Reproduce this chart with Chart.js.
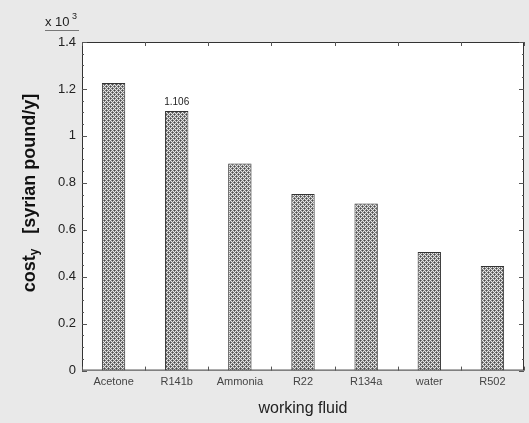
<!DOCTYPE html>
<html>
<head>
<meta charset="utf-8">
<script src="https://cdn.jsdelivr.net/npm/chart.js@4.4.1/dist/chart.umd.min.js"></script>
<style>
  html, body { margin: 0; padding: 0; background: #e9e9e9; }
  #wrap { width: 529px; height: 423px; }
</style>
</head>
<body>
<div id="wrap"><canvas id="c" width="529" height="423"></canvas></div>
<script>
// working fluids and their yearly cost (x 10^3 syrian pound/y)
const fluids = ['Acetone', 'R141b', 'Ammonia', 'R22', 'R134a', 'water', 'R502'];
const costs = [1.225, 1.106, 0.882, 0.752, 0.712, 0.505, 0.446];
// only this bar carries a value label
const labelled = [1];
const yTicks = [0, 0.2, 0.4, 0.6, 0.8, 1, 1.2, 1.4];

// small crosshatch tile for the bars
function makeHatch(ctx) {
    const t = document.createElement('canvas');
    t.width = 4; t.height = 4;
    const g = t.getContext('2d');
    g.fillStyle = '#e6e6e6';
    g.fillRect(0, 0, 4, 4);
    g.fillStyle = '#4a4a4a';
    g.fillRect(0, 0, 1, 1);
    g.fillRect(2, 2, 1, 1);
    g.fillStyle = '#808080';
    g.fillRect(1, 0, 1, 1); g.fillRect(0, 1, 1, 1);
    g.fillRect(3, 2, 1, 1); g.fillRect(2, 3, 1, 1);
    g.fillRect(1, 2, 1, 1); g.fillRect(2, 1, 1, 1);
    g.fillRect(3, 0, 1, 1); g.fillRect(0, 3, 1, 1);
    return ctx.createPattern(t, 'repeat');
}

const ctx = document.getElementById('c').getContext('2d');

const decor = {
    id: 'decor',
    beforeDraw(chart) {
        const { ctx, chartArea: a } = chart;
        ctx.save();
        ctx.fillStyle = '#e9e9e9';
        ctx.fillRect(0, 0, chart.width, chart.height);
        ctx.fillStyle = '#ffffff';
        ctx.fillRect(a.left, a.top, a.right - a.left, a.bottom - a.top);
        ctx.restore();
    },
    afterDraw(chart) {
        const { ctx, chartArea: a, scales } = chart;
        const y = scales.y, x = scales.x;
        ctx.save();
        // frame
        ctx.strokeStyle = '#333';
        ctx.lineWidth = 1;
        ctx.strokeRect(a.left + 0.5, a.top + 0.5, a.right - a.left - 1, a.bottom - a.top - 1);
        // inward tick marks, major + minor
        ctx.strokeStyle = '#555';
        ctx.beginPath();
        for (let v = 0; v <= 1.4001; v += 0.05) {
            const py = Math.round(y.getPixelForValue(v)) + 0.5;
            const major = Math.abs(v / 0.2 - Math.round(v / 0.2)) < 1e-6;
            const len = major ? 5 : 2;
            ctx.moveTo(a.left, py); ctx.lineTo(a.left + len, py);
            ctx.moveTo(a.right, py); ctx.lineTo(a.right - len, py);
        }
        for (let i = 0; i <= fluids.length; i++) {
            const px = Math.round(x.left + (x.right - x.left) * i / fluids.length) + 0.5;
            ctx.moveTo(px, a.bottom); ctx.lineTo(px, a.bottom - 4);
            ctx.moveTo(px, a.top); ctx.lineTo(px, a.top + 4);
        }
        ctx.stroke();

        // exponent note above the y axis
        ctx.fillStyle = '#222';
        ctx.font = '13px "Liberation Sans", Arial, sans-serif';
        ctx.textBaseline = 'alphabetic';
        ctx.textAlign = 'left';
        ctx.fillText('x 10', 45, 26);
        ctx.font = '9px "Liberation Sans", Arial, sans-serif';
        ctx.fillText('3', 72, 19);
        ctx.strokeStyle = '#777';
        ctx.beginPath();
        ctx.moveTo(45, 30.5); ctx.lineTo(79, 30.5);
        ctx.stroke();

        // value label on the chosen bar
        const meta = chart.getDatasetMeta(0);
        ctx.fillStyle = '#222';
        ctx.font = '10px "Liberation Sans", Arial, sans-serif';
        ctx.textAlign = 'center';
        labelled.forEach(i => {
            const bar = meta.data[i];
            ctx.fillText(costs[i].toFixed(3), bar.x, bar.y - 6);
        });

        // y title with subscript
        ctx.translate(30, 193);
        ctx.rotate(-Math.PI / 2);
        const big = 'bold 18px "Liberation Sans", Arial, sans-serif';
        const small = 'bold 12px "Liberation Sans", Arial, sans-serif';
        ctx.font = big;
        const w1 = ctx.measureText('cost').width;
        const w3 = ctx.measureText('   [syrian pound/y]').width;
        ctx.font = small;
        const w2 = ctx.measureText('y').width;
        let sx = -(w1 + w2 + w3) / 2;
        ctx.textAlign = 'left';
        ctx.textBaseline = 'middle';
        ctx.fillStyle = '#111';
        ctx.font = big;
        ctx.fillText('cost', sx, 0);
        sx += w1;
        ctx.font = small;
        ctx.fillText('y', sx, 5);
        sx += w2;
        ctx.font = big;
        ctx.fillText('   [syrian pound/y]', sx, 0);
        ctx.restore();
    }
};

new Chart(ctx, {
    type: 'bar',
    data: {
        labels: fluids,
        datasets: [{
            data: costs,
            backgroundColor: makeHatch(ctx),
            borderColor: '#333333',
            borderWidth: 1,
            borderSkipped: 'bottom',
            barPercentage: 0.37,
            categoryPercentage: 1
        }]
    },
    options: {
        responsive: false,
        animation: false,
        layout: { padding: { top: 42, right: 5, left: 0, bottom: 0 } },
        plugins: { legend: { display: false }, tooltip: { enabled: false } },
        scales: {
            x: {
                grid: { display: false, drawTicks: false },
                border: { display: false },
                ticks: {
                    color: '#444',
                    font: { size: 11, family: '"Liberation Sans", Arial, sans-serif' },
                    padding: 5,
                    maxRotation: 0
                },
                title: {
                    display: true,
                    text: 'working fluid',
                    color: '#222',
                    font: { size: 16, family: '"Liberation Sans", Arial, sans-serif' },
                    padding: { top: 5, bottom: 5 }
                }
            },
            y: {
                min: 0,
                max: 1.4,
                afterBuildTicks(s) { s.ticks = yTicks.map(v => ({ value: v })); },
                afterFit(s) { s.width = 82; },
                grid: { display: false, drawTicks: false },
                border: { display: false },
                ticks: {
                    color: '#222',
                    font: { size: 13, family: '"Liberation Sans", Arial, sans-serif' },
                    padding: 6,
                    callback: v => String(v)
                }
            }
        }
    },
    plugins: [decor]
});
</script>
</body>
</html>
